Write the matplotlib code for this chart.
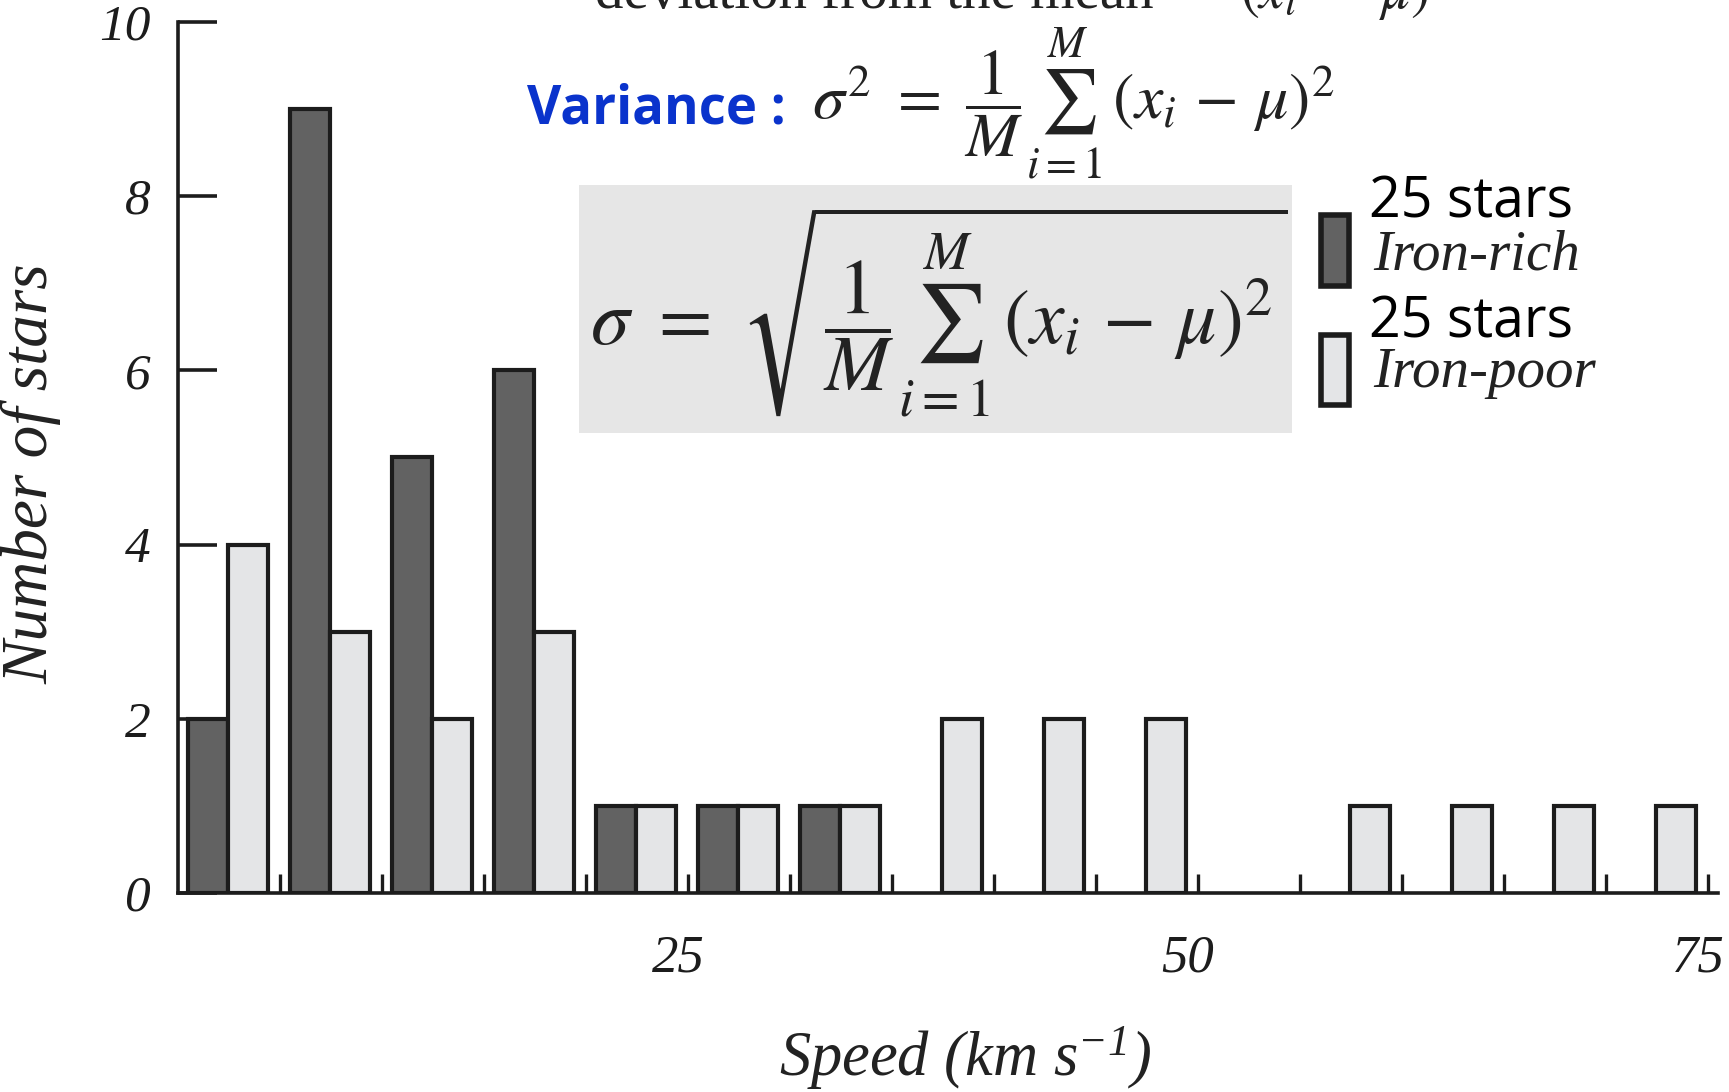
import numpy as np
import matplotlib
matplotlib.use('Agg')
import matplotlib.pyplot as plt
import matplotlib.transforms as mtransforms
from matplotlib.patches import Rectangle

# data: histogram of star speeds, 5 km/s bins
bin_starts = np.arange(0, 75, 5)
iron_rich = [2, 9, 5, 6, 1, 1, 1, 0, 0, 0, 0, 0, 0, 0, 0]
iron_poor = [4, 3, 2, 3, 1, 1, 1, 2, 2, 2, 0, 1, 1, 1, 1]
xtick_pos = np.arange(5, 80, 5)
xtick_labels = ['25' if t == 25 else '50' if t == 50 else '75' if t == 75 else '' for t in xtick_pos]
ytick_pos = [0, 2, 4, 6, 8, 10]

dark = '#626262'
light = '#e4e5e7'
edge = '#1c1c1c'
serif = 'Liberation Serif'

plt.rcParams['mathtext.rm'] = 'Liberation Serif:italic'
plt.rcParams['mathtext.it'] = 'Liberation Serif:italic'

W, H = 1729, 1092
fig = plt.figure(figsize=(W / 100, H / 100), dpi=100)

def fx(px):
    return px / W

def fy(py):
    return 1 - py / H

ax = fig.add_axes([fx(178), fy(893), fx(1718) - fx(178), fy(22) - fy(893)])

# empty bins are not drawn (they would thicken the axis line)
rich = np.array(iron_rich)
poor = np.array(iron_poor)
ax.bar(bin_starts[rich > 0] + 0.5, rich[rich > 0], width=1.95, align='edge',
       color=dark, edgecolor=edge, linewidth=3, zorder=2)
ax.bar(bin_starts[poor > 0] + 2.45, poor[poor > 0], width=1.95, align='edge',
       color=light, edgecolor=edge, linewidth=3, zorder=2)

ax.set_xlim(0, 75.5)
ax.set_ylim(0, 10)
for s in ['top', 'right']:
    ax.spines[s].set_visible(False)
for s in ['left', 'bottom']:
    ax.spines[s].set_linewidth(2.6)
    ax.spines[s].set_color(edge)

ax.set_xticks(xtick_pos)
ax.set_xticklabels(xtick_labels)
ax.set_yticks(ytick_pos)
ax.tick_params(axis='y', direction='in', length=28, width=2.6, pad=20,
               labelsize=37, colors=edge)
ax.tick_params(axis='x', direction='in', length=14, width=2.4, pad=30,
               labelsize=38, colors=edge)
shift = mtransforms.ScaledTranslation(-10 / 100, 0, fig.dpi_scale_trans)
for lbl in ax.get_xticklabels():
    lbl.set_transform(lbl.get_transform() + shift)
for lbl in ax.get_xticklabels() + ax.get_yticklabels():
    lbl.set_family(serif)
    lbl.set_style('italic')

# axis titles
fig.text(fx(31), fy(474), 'Number of stars', rotation=90, ha='center', va='center',
         family=serif, style='italic', fontsize=47, color='#222222')
fig.text(fx(965), fy(1058), r'Speed (km s$^{-1}$)', ha='center', va='center',
         family=serif, style='italic', fontsize=45, color='#222222',
         math_fontfamily='custom')

# clipped caption at the very top
fig.text(fx(595), fy(8), 'deviation from the mean', ha='left', va='baseline',
         family=serif, fontsize=41, color='#222222')
fig.text(fx(1240), fy(8), r'$(x_i\ -\ \mu)$', ha='left', va='baseline',
         fontsize=41, color='#222222', math_fontfamily='stix')

# variance formula
fig.text(fx(527), fy(110), 'Variance :', ha='left', va='center',
         family='Open Sans', weight='bold', fontsize=38, color='#0a33cc')
fig.text(fx(812), fy(104), r'$\sigma^2\ =\ \dfrac{1}{M}\sum_{i=1}^{M}\,(x_i\,-\,\mu)^2$',
         ha='left', va='center', fontsize=46, color='#222222', math_fontfamily='stix')

# standard deviation box
fig.add_artist(Rectangle((fx(579), fy(433)), fx(1292) - fx(579), fy(185) - fy(433),
                         transform=fig.transFigure, facecolor='#e6e6e6',
                         edgecolor='none', zorder=3))
fig.text(fx(590), fy(312), r'$\sigma\ =\ \sqrt{\dfrac{1}{M}\sum_{i=1}^{M}\,(x_i\,-\,\mu)^2}$',
         ha='left', va='center', fontsize=56, color='#222222', math_fontfamily='stix',
         zorder=4)

# legend
fig.add_artist(Rectangle((fx(1321), fy(286)), fx(1349) - fx(1321), fy(215) - fy(286),
                         transform=fig.transFigure, facecolor=dark,
                         edgecolor=edge, linewidth=4, zorder=3))
fig.add_artist(Rectangle((fx(1321), fy(405)), fx(1349) - fx(1321), fy(335) - fy(405),
                         transform=fig.transFigure, facecolor=light,
                         edgecolor=edge, linewidth=4, zorder=3))
fig.text(fx(1369), fy(217), '25 stars', ha='left', va='baseline',
         family='Open Sans', fontsize=40, color='black')
fig.text(fx(1373), fy(269), 'Iron-rich', ha='left', va='baseline',
         family=serif, style='italic', fontsize=41, color='#222222')
fig.text(fx(1369), fy(337), '25 stars', ha='left', va='baseline',
         family='Open Sans', fontsize=40, color='black')
fig.text(fx(1373), fy(387), 'Iron-poor', ha='left', va='baseline',
         family=serif, style='italic', fontsize=41, color='#222222')

fig.savefig('out.png', dpi=100)
